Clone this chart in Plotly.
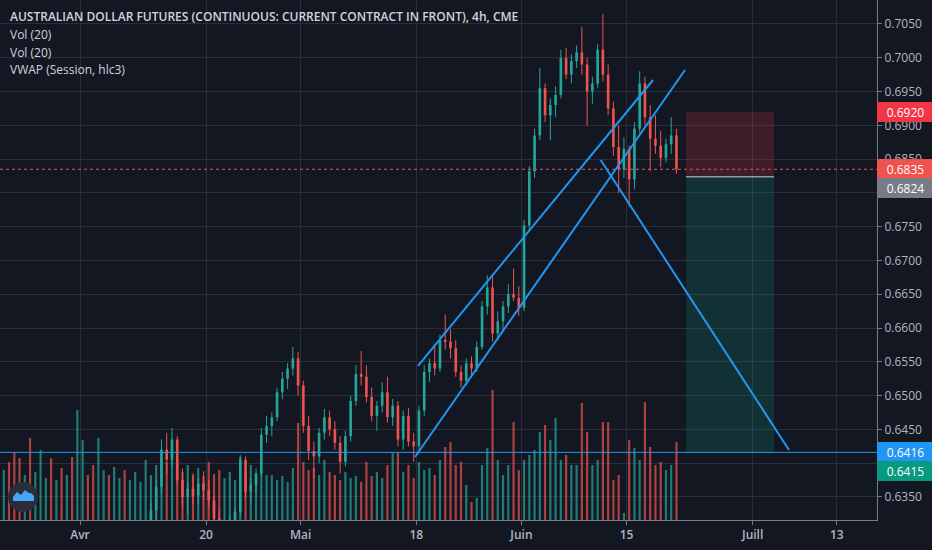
import plotly.graph_objects as go

# ---------------- data ----------------
title_text = "AUSTRALIAN DOLLAR FUTURES (CONTINUOUS: CURRENT CONTRACT IN FRONT), 4h, CME"
indicator_texts = ["Vol (20)", "Vol (20)", "VWAP (Session, hlc3)"]

tick_dates = ["2020-04-01", "2020-04-20", "2020-05-01", "2020-05-18",
              "2020-06-01", "2020-06-15", "2020-07-01", "2020-07-13"]
tick_labels = ["Avr", "20", "Mai", "18", "Juin", "15", "Juill", "13"]

price_ticks = [0.6350, 0.6400, 0.6450, 0.6500, 0.6550, 0.6600, 0.6650, 0.6700, 0.6750,
               0.6800, 0.6850, 0.6900, 0.6950, 0.7000, 0.7050]
price_tick_labels = ["0.6350", "", "0.6450", "0.6500", "0.6550", "0.6600", "0.6650", "0.6700",
                     "0.6750", "", "0.6850", "0.6900", "0.6950", "0.7000", "0.7050"]

sessions = ["06:00", "18:00"]

early_days = ["2020-03-23", "2020-03-24", "2020-03-25", "2020-03-26", "2020-03-27",
              "2020-03-30", "2020-03-31", "2020-04-01", "2020-04-02", "2020-04-03",
              "2020-04-06", "2020-04-07"]

candle_days = ["2020-04-08", "2020-04-09", "2020-04-13", "2020-04-14", "2020-04-15",
               "2020-04-16", "2020-04-17", "2020-04-20", "2020-04-21", "2020-04-22",
               "2020-04-23", "2020-04-24", "2020-04-27", "2020-04-28", "2020-04-29",
               "2020-04-30", "2020-05-01", "2020-05-04", "2020-05-05", "2020-05-06",
               "2020-05-07", "2020-05-08", "2020-05-11", "2020-05-12", "2020-05-13",
               "2020-05-14", "2020-05-15", "2020-05-18", "2020-05-19", "2020-05-20",
               "2020-05-21", "2020-05-22", "2020-05-25", "2020-05-26", "2020-05-27",
               "2020-05-28", "2020-05-29", "2020-06-01", "2020-06-02", "2020-06-03",
               "2020-06-04", "2020-06-05", "2020-06-08", "2020-06-09", "2020-06-10",
               "2020-06-11", "2020-06-12", "2020-06-15", "2020-06-16", "2020-06-17",
               "2020-06-18", "2020-06-19"]

opens = [0.6175, 0.6220, 0.6240, 0.6282, 0.6330, 0.6365, 0.6420, 0.6405, 0.6435, 0.6375,
         0.6350, 0.6362, 0.6352, 0.6370, 0.6360, 0.6345, 0.6318, 0.6290, 0.6300, 0.6310,
         0.6328, 0.6405, 0.6358, 0.6368, 0.6385, 0.6442, 0.6455, 0.6468, 0.6505, 0.6525,
         0.6540, 0.6555, 0.6515, 0.6455, 0.6418, 0.6410, 0.6445, 0.6468, 0.6450, 0.6430,
         0.6402, 0.6440, 0.6492, 0.6532, 0.6528, 0.6498, 0.6470, 0.6485, 0.6505, 0.6468,
         0.6485, 0.6435, 0.6470, 0.6432, 0.6425, 0.6478, 0.6535, 0.6548, 0.6540, 0.6582,
         0.6580, 0.6570, 0.6535, 0.6522, 0.6548, 0.6540, 0.6572, 0.6632, 0.6660, 0.6592,
         0.6610, 0.6632, 0.6650, 0.6645, 0.6630, 0.6752, 0.6832, 0.6885, 0.6955, 0.6915,
         0.6930, 0.6945, 0.7000, 0.6975, 0.6995, 0.7008, 0.6990, 0.6950, 0.6962, 0.7012,
         0.6975, 0.6925, 0.6868, 0.6835, 0.6865, 0.6820, 0.6895, 0.6962, 0.6912, 0.6880,
         0.6870, 0.6852, 0.6872, 0.6885]
highs = [0.6230, 0.6255, 0.6290, 0.6342, 0.6375, 0.6435, 0.6445, 0.6452, 0.6440, 0.6392,
         0.6372, 0.6385, 0.6378, 0.6388, 0.6375, 0.6352, 0.6330, 0.6312, 0.6322, 0.6335,
         0.6412, 0.6410, 0.6378, 0.6392, 0.6452, 0.6470, 0.6475, 0.6512, 0.6535, 0.6548,
         0.6572, 0.6565, 0.6522, 0.6470, 0.6432, 0.6452, 0.6480, 0.6478, 0.6462, 0.6440,
         0.6448, 0.6500, 0.6545, 0.6566, 0.6545, 0.6512, 0.6492, 0.6520, 0.6528, 0.6495,
         0.6492, 0.6478, 0.6482, 0.6445, 0.6485, 0.6545, 0.6555, 0.6575, 0.6590, 0.6620,
         0.6598, 0.6582, 0.6545, 0.6555, 0.6558, 0.6580, 0.6640, 0.6678, 0.6680, 0.6625,
         0.6640, 0.6665, 0.6688, 0.6662, 0.6760, 0.6840, 0.6895, 0.6985, 0.6962, 0.6940,
         0.6958, 0.7012, 0.7015, 0.7005, 0.7018, 0.7046, 0.7000, 0.6972, 0.7020, 0.7065,
         0.6990, 0.6935, 0.6900, 0.6882, 0.6870, 0.6905, 0.6980, 0.6972, 0.6930, 0.6915,
         0.6892, 0.6880, 0.6912, 0.6895]
lows = [0.6160, 0.6200, 0.6230, 0.6275, 0.6315, 0.6355, 0.6385, 0.6395, 0.6368, 0.6335,
        0.6325, 0.6340, 0.6338, 0.6345, 0.6335, 0.6310, 0.6275, 0.6265, 0.6280, 0.6295,
        0.6322, 0.6348, 0.6340, 0.6355, 0.6380, 0.6430, 0.6440, 0.6462, 0.6495, 0.6510,
        0.6530, 0.6500, 0.6445, 0.6405, 0.6378, 0.6400, 0.6435, 0.6440, 0.6420, 0.6385,
        0.6395, 0.6432, 0.6485, 0.6515, 0.6490, 0.6462, 0.6448, 0.6475, 0.6460, 0.6455,
        0.6425, 0.6420, 0.6425, 0.6402, 0.6418, 0.6470, 0.6520, 0.6530, 0.6535, 0.6568,
        0.6555, 0.6528, 0.6512, 0.6515, 0.6528, 0.6535, 0.6568, 0.6620, 0.6580, 0.6582,
        0.6595, 0.6622, 0.6640, 0.6618, 0.6625, 0.6745, 0.6822, 0.6878, 0.6905, 0.6878,
        0.6912, 0.6940, 0.6968, 0.6962, 0.6985, 0.6975, 0.6900, 0.6932, 0.6955, 0.6965,
        0.6915, 0.6855, 0.6800, 0.6822, 0.6779, 0.6805, 0.6888, 0.6900, 0.6832, 0.6858,
        0.6838, 0.6845, 0.6858, 0.6828]
closes = [0.6220, 0.6240, 0.6282, 0.6330, 0.6365, 0.6420, 0.6405, 0.6435, 0.6375, 0.6350,
          0.6362, 0.6352, 0.6370, 0.6360, 0.6345, 0.6318, 0.6290, 0.6300, 0.6310, 0.6328,
          0.6405, 0.6358, 0.6368, 0.6385, 0.6442, 0.6455, 0.6468, 0.6505, 0.6525, 0.6540,
          0.6555, 0.6515, 0.6455, 0.6418, 0.6410, 0.6445, 0.6468, 0.6450, 0.6430, 0.6402,
          0.6440, 0.6492, 0.6532, 0.6528, 0.6498, 0.6470, 0.6485, 0.6505, 0.6468, 0.6485,
          0.6435, 0.6470, 0.6432, 0.6425, 0.6478, 0.6535, 0.6548, 0.6540, 0.6582, 0.6580,
          0.6570, 0.6535, 0.6522, 0.6548, 0.6540, 0.6572, 0.6632, 0.6660, 0.6592, 0.6610,
          0.6632, 0.6650, 0.6645, 0.6630, 0.6752, 0.6832, 0.6885, 0.6955, 0.6915, 0.6930,
          0.6945, 0.7000, 0.6975, 0.6995, 0.7008, 0.6990, 0.6950, 0.6962, 0.7012, 0.6975,
          0.6925, 0.6868, 0.6835, 0.6865, 0.6820, 0.6895, 0.6962, 0.6912, 0.6880, 0.6870,
          0.6852, 0.6872, 0.6885, 0.6835]

first_volume_time = "2020-03-20 18:00"
first_volume = 5.0
first_dir = "u"
early_volume = [5.8, 6.8, 6.2, 4.5, 8.2, 4.8, 7.0, 4.2, 6.2, 4.0, 5.2, 4.5,
                6.3, 11.0, 8.0, 4.5, 5.5, 8.2, 5.0, 4.5, 5.3, 4.2, 5.0, 4.0]
early_dir = ["d", "d", "d", "u", "d", "u", "u", "u", "d", "u", "d", "u",
             "d", "u", "u", "d", "d", "u", "u", "d", "u", "u", "d", "u"]
candle_volume = [4.8, 3.8, 6.0, 4.5, 5.5, 6.2, 5.8, 6.6, 6.0, 4.8,
                 5.5, 4.5, 5.2, 4.4, 5.8, 4.6, 5.0, 4.2, 4.8, 4.0,
                 6.3, 4.8, 5.5, 4.2, 5.0, 4.5, 4.5, 4.0, 4.4, 3.8,
                 5.2, 9.7, 5.8, 5.0, 5.2, 4.5, 6.0, 4.8, 4.5, 4.0,
                 4.8, 4.2, 4.4, 3.8, 5.8, 4.4, 4.8, 4.2, 5.5, 6.7,
                 6.7, 4.8, 5.5, 4.2, 5.8, 5.0, 5.2, 4.5, 6.0, 7.3,
                 7.8, 5.5, 5.8, 3.5, 1.8, 2.2, 5.5, 7.2, 13.0, 6.0,
                 4.5, 5.5, 9.8, 5.0, 6.0, 6.5, 7.0, 8.8, 9.5, 8.0,
                 10.2, 6.0, 6.5, 5.5, 5.5, 11.7, 8.8, 5.5, 6.0, 9.8,
                 9.8, 4.0, 4.5, 0.7, 8.0, 7.2, 6.0, 11.8, 7.3, 5.5,
                 5.8, 5.0, 5.5, 7.8]

last_price = 0.6835
stop_price = 0.6920
entry_price = 0.6824
target_price = 0.6415
support_price = 0.6416

# hand-drawn lines (time, price)
channel_lower = [("2020-05-15 21:00", 0.64092), ("2020-06-22 13:30", 0.69819)]
channel_upper = [("2020-05-18 03:50", 0.65439), ("2020-06-17 12:30", 0.69671)]
down_line = [("2020-06-10 13:00", 0.68487), ("2020-07-06 11:00", 0.64196)]
position_window = ["2020-06-22 15:50", "2020-07-03 00:45"]

x_window = ["2020-03-20 09:20", "2020-07-16 19:55"]
price_window = [0.63159, 0.70855]

# ---------------- style ----------------
BG = "#131722"
GRID = "#2a2e39"
AXIS = "#787b86"
TXT = "#b2b5be"
UP = "#26a69a"
DOWN = "#ef5350"
BLUE = "#2196f3"
FONT = "Open Sans"
HOUR = 3600 * 1000

candle_x = [f"{d} {s}" for d in candle_days for s in sessions]
early_x = [f"{d} {s}" for d in early_days for s in sessions]
vol_x = [first_volume_time] + early_x + candle_x
vol_y = [first_volume] + early_volume + candle_volume
is_up = [c >= o for o, c in zip(opens, closes)]
dirs = [first_dir] + early_dir + ["u" if u else "d" for u in is_up]
vol_colors = ["rgba(38,166,154,0.7)" if d == "u" else "rgba(239,83,80,0.7)" for d in dirs]

fig = go.Figure()
# volume (own hidden axis)
fig.add_trace(go.Bar(x=vol_x, y=vol_y, marker=dict(color=vol_colors, line=dict(width=0)),
                     width=5 * HOUR, yaxis="y", hoverinfo="skip"))

# candle bodies
body_base = [min(o, c) for o, c in zip(opens, closes)]
body_h = [max(abs(c - o), 0.00006) for o, c in zip(opens, closes)]
body_col = [UP if u else DOWN for u in is_up]
fig.add_trace(go.Bar(x=candle_x, y=body_h, base=body_base, width=6 * HOUR, yaxis="y2",
                     marker=dict(color=body_col, line=dict(width=0)), hoverinfo="skip"))
# candle wicks
for want_up, col in ((True, UP), (False, DOWN)):
    wx, wy = [], []
    for t, h, l, u in zip(candle_x, highs, lows, is_up):
        if u == want_up:
            wx += [t, t, None]
            wy += [l, h, None]
    fig.add_trace(go.Scatter(x=wx, y=wy, mode="lines", line=dict(color=col, width=1),
                             yaxis="y2", hoverinfo="skip", connectgaps=False))

shapes = []
# position tool
shapes.append(dict(type="rect", xref="x", yref="y2", x0=position_window[0], x1=position_window[1],
                   y0=entry_price, y1=stop_price, fillcolor="rgba(242,54,69,0.2)", line=dict(width=0)))
shapes.append(dict(type="rect", xref="x", yref="y2", x0=position_window[0], x1=position_window[1],
                   y0=target_price, y1=entry_price, fillcolor="rgba(8,153,129,0.2)", line=dict(width=0)))
shapes.append(dict(type="line", xref="x", yref="y2", x0=position_window[0], x1=position_window[1],
                   y0=entry_price, y1=entry_price, line=dict(color="#9598a1", width=1.5)))
# horizontal support & last price
shapes.append(dict(type="line", xref="paper", yref="y2", x0=0, x1=1, y0=support_price, y1=support_price,
                   line=dict(color=BLUE, width=1)))
shapes.append(dict(type="line", xref="paper", yref="y2", x0=0, x1=1, y0=last_price, y1=last_price,
                   line=dict(color=DOWN, width=1, dash="dot")))
for ln in (channel_lower, channel_upper, down_line):
    shapes.append(dict(type="line", xref="x", yref="y2", x0=ln[0][0], y0=ln[0][1], x1=ln[1][0], y1=ln[1][1],
                       line=dict(color=BLUE, width=2)))

# logo (bottom-left), pixel -> paper helper
PW, PH = 877.0, 520.0
def px(xp, yp):
    return xp / PW, 1 - yp / PH
cx0, cy0 = px(8, 482)
cx1, cy1 = px(38, 512)
shapes.append(dict(type="circle", xref="paper", yref="paper", x0=cx0, x1=cx1, y0=cy1, y1=cy0,
                   fillcolor="#2a2e39", line=dict(width=0)))
pts = [(13, 501), (13, 497), (17, 492), (21, 495), (25, 490), (29, 493), (31, 493), (34, 496), (34, 501)]
path = "M " + " L ".join(f"{px(a, b)[0]:.5f},{px(a, b)[1]:.5f}" for a, b in pts) + " Z"
shapes.append(dict(type="path", xref="paper", yref="paper", path=path, fillcolor="#42a5f5", line=dict(width=0)))

annotations = []
annotations.append(dict(xref="paper", yref="paper", x=0, y=1, xshift=8, yshift=-16, xanchor="left",
                        yanchor="middle", text=title_text, showarrow=False,
                        font=dict(family=FONT, size=12, color="#d1d4dc", weight=600)))
for i, t in enumerate(indicator_texts):
    annotations.append(dict(xref="paper", yref="paper", x=0, y=1, xshift=8, yshift=-(34.5 + 17.5 * i),
                            xanchor="left", yanchor="middle", text=t, showarrow=False,
                            font=dict(family=FONT, size=12, color="#d1d4dc")))

price_labels = [(stop_price, "#f23645", 0), (last_price, DOWN, 0), (entry_price, "#787b86", -11),
                (support_price, BLUE, 0), (target_price, "#089981", -18)]
for p, col, ys in price_labels:
    annotations.append(dict(xref="paper", yref="y2", x=1, y=p, xanchor="left", yanchor="middle",
                            xshift=0, yshift=ys, text=f"{p:.4f}", showarrow=False,
                            bgcolor=col, bordercolor=col, borderpad=1, width=53, height=16,
                            font=dict(family=FONT, size=12, color="#ffffff")))

fig.update_layout(
    width=932, height=550,
    margin=dict(l=0, r=55, t=0, b=30),
    paper_bgcolor=BG, plot_bgcolor=BG,
    showlegend=False, barmode="overlay",
    shapes=shapes, annotations=annotations,
    xaxis=dict(type="date", range=x_window,
               rangebreaks=[dict(bounds=["sat", "mon"]), dict(values=["2020-04-10"])],
               tickmode="array", tickvals=tick_dates, ticktext=tick_labels,
               showgrid=True, gridcolor=GRID, gridwidth=1, zeroline=False,
               showline=True, linecolor=AXIS, linewidth=1,
               ticks="outside", ticklen=4, tickcolor=AXIS,
               tickfont=dict(family=FONT, size=12, color=TXT, weight=600),
               fixedrange=True),
    yaxis=dict(range=[0, 52], visible=False, fixedrange=True, showgrid=False),
    yaxis2=dict(overlaying="y", side="right", range=price_window,
                tickmode="array", tickvals=price_ticks, ticktext=price_tick_labels,
                showgrid=True, gridcolor=GRID, gridwidth=1, zeroline=False,
                showline=True, linecolor=AXIS, linewidth=1,
                ticks="outside", ticklen=4, tickcolor=AXIS,
                tickfont=dict(family=FONT, size=12, color=TXT), fixedrange=True),
)

fig.write_html("out.html", config={"displayModeBar": False},
               post_script="document.body.style.margin='0';")
